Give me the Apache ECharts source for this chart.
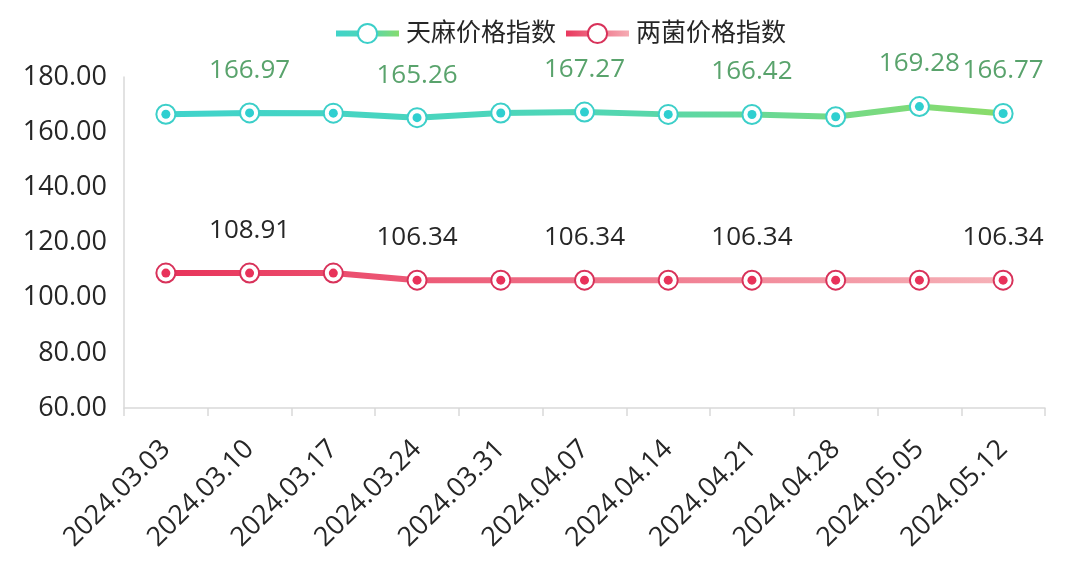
<!DOCTYPE html>
<html>
<head>
<meta charset="utf-8">
<title>天麻、两菌价格指数</title>
<script src="https://cdn.jsdelivr.net/npm/echarts@6/dist/echarts.min.js"></script>
<style>
  html, body { margin: 0; padding: 0; background: #fff; }
  #chart { width: 1080px; height: 567px; }
</style>
</head>
<body>
<div id="chart"></div>
<script>
// 数据
var dates = ['2024.03.03', '2024.03.10', '2024.03.17', '2024.03.24', '2024.03.31', '2024.04.07',
             '2024.04.14', '2024.04.21', '2024.04.28', '2024.05.05', '2024.05.12'];
var tianma = [166.50, 166.97, 166.90, 165.26, 166.95, 167.27, 166.45, 166.42, 165.60, 169.28, 166.77];
var liangjun = [108.91, 108.91, 108.91, 106.34, 106.34, 106.34, 106.34, 106.34, 106.34, 106.34, 106.34];
// 显示数值标签的点
var tianmaLabelIdx = [1, 3, 5, 7, 9, 10];
var liangjunLabelIdx = [1, 3, 5, 7, 10];
var yTicks = [60, 80, 100, 120, 140, 160, 180];

var FONT = "'Open Sans', 'Noto Sans CJK SC', sans-serif";

function withLabels(values, idxList) {
    return values.map(function (v, i) {
        return { value: v, label: { show: idxList.indexOf(i) >= 0 } };
    });
}

var myChart = echarts.init(document.getElementById('chart'));

var option = {
    animation: false,
    textStyle: { fontFamily: FONT },
    legend: {
        top: 16,
        left: 328,
        itemWidth: 63,
        itemHeight: 24,
        itemGap: 7,
        data: ['天麻价格指数', '两菌价格指数'],
        lineStyle: { width: 6 },
        textStyle: { fontSize: 25, color: '#262626', fontFamily: FONT, padding: [0, 0, 0, 2] }
    },
    grid: { left: 124, right: 35, top: 77, bottom: 159 },
    xAxis: {
        type: 'category',
        data: dates,
        boundaryGap: true,
        axisLine: { lineStyle: { color: '#d9d9d9', width: 1.5 } },
        axisTick: { show: true, length: 8, lineStyle: { color: '#d9d9d9', width: 1.5 } },
        axisLabel: { rotate: 45, margin: 37, fontSize: 27, color: '#262626', fontFamily: FONT, interval: 0 },
        splitLine: { show: false }
    },
    yAxis: {
        type: 'value',
        min: yTicks[0],
        max: yTicks[yTicks.length - 1],
        interval: 20,
        axisLine: { show: true, lineStyle: { color: '#d9d9d9', width: 1.5 } },
        axisTick: { show: false },
        splitLine: { show: false },
        axisLabel: {
            margin: 17, fontSize: 27, color: '#262626', fontFamily: FONT,
            formatter: function (v) { return v.toFixed(2); }
        }
    },
    series: [
        {
            name: '天麻价格指数',
            type: 'line',
            data: withLabels(tianma, tianmaLabelIdx),
            symbol: 'emptyCircle',
            symbolSize: 19,
            lineStyle: {
                width: 6,
                color: new echarts.graphic.LinearGradient(0, 0, 1, 0, [
                    { offset: 0, color: '#3fd3cb' },
                    { offset: 0.5, color: '#4fd6b6' },
                    { offset: 1, color: '#8cdc68' }
                ])
            },
            itemStyle: { color: '#3ccfc9', borderWidth: 2.5 },
            label: {
                position: 'top', distance: 19, fontSize: 26, color: '#59a36c', fontFamily: FONT,
                formatter: function (p) { return p.value.toFixed(2); }
            },
            z: 2
        },
        {
            name: '两菌价格指数',
            type: 'line',
            data: withLabels(liangjun, liangjunLabelIdx),
            symbol: 'emptyCircle',
            symbolSize: 19,
            lineStyle: {
                width: 6,
                color: new echarts.graphic.LinearGradient(0, 0, 1, 0, [
                    { offset: 0, color: '#e8335a' },
                    { offset: 1, color: '#f6b2b8' }
                ])
            },
            itemStyle: { color: '#d8325a', borderWidth: 2.5 },
            label: {
                position: 'top', distance: 19, fontSize: 26, color: '#262626', fontFamily: FONT,
                formatter: function (p) { return p.value.toFixed(2); }
            },
            z: 2
        },
        // 圆点内芯
        {
            name: '天麻内芯',
            type: 'line',
            data: tianma,
            symbol: 'circle',
            symbolSize: 9,
            lineStyle: { width: 0, opacity: 0 },
            itemStyle: { color: '#2fcfd0' },
            silent: true,
            z: 3
        },
        {
            name: '两菌内芯',
            type: 'line',
            data: liangjun,
            symbol: 'circle',
            symbolSize: 9,
            lineStyle: { width: 0, opacity: 0 },
            itemStyle: { color: '#e8325a' },
            silent: true,
            z: 3
        }
    ]
};

myChart.setOption(option);
</script>
</body>
</html>
